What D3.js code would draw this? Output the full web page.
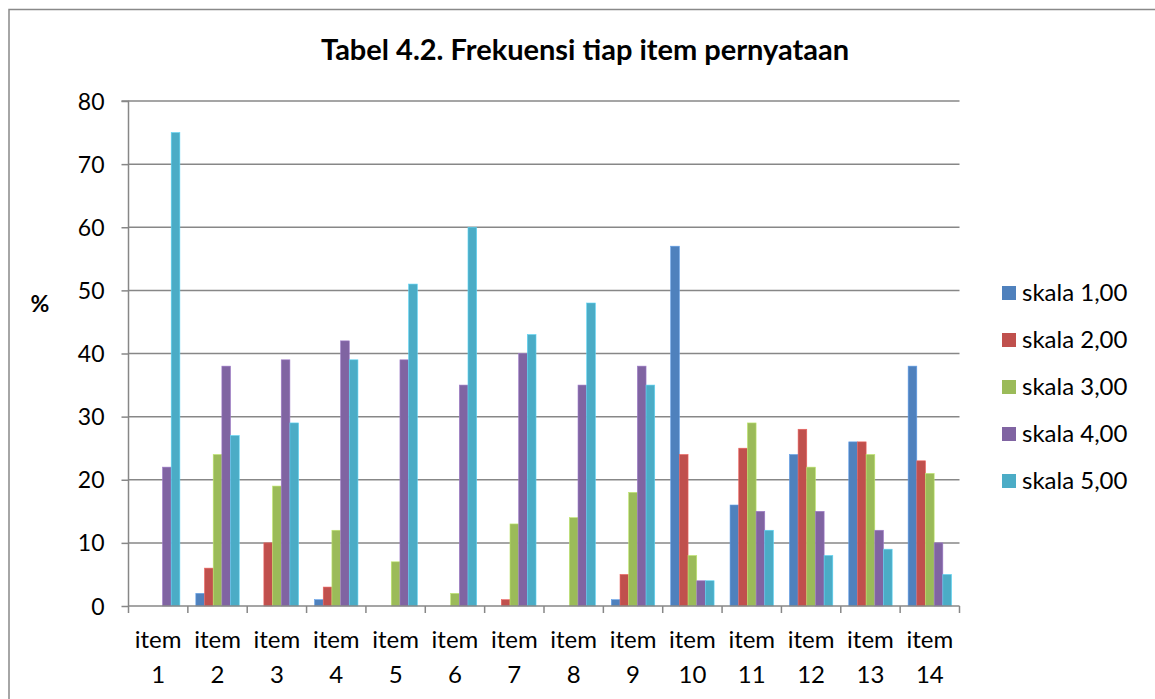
<!DOCTYPE html>
<html>
<head>
<meta charset="utf-8">
<script src="https://cdn.jsdelivr.net/npm/d3@7"></script>
<style>
  html, body { margin: 0; padding: 0; background: #fff; }
  svg { display: block; }
  text { font-family: Lato, "Noto Sans", sans-serif; fill: #000; }
</style>
</head>
<body>
<svg id="chart" width="1155" height="699"></svg>
<script>
const categories = ["item 1","item 2","item 3","item 4","item 5","item 6","item 7","item 8","item 9","item 10","item 11","item 12","item 13","item 14"];
const seriesNames = ["skala 1,00","skala 2,00","skala 3,00","skala 4,00","skala 5,00"];
const skala1 = [0, 2, 0, 1, 0, 0, 0, 0, 1, 57, 16, 24, 26, 38];
const skala2 = [0, 6, 10, 3, 0, 0, 1, 0, 5, 24, 25, 28, 26, 23];
const skala3 = [0, 24, 19, 12, 7, 2, 13, 14, 18, 8, 29, 22, 24, 21];
const skala4 = [22, 38, 39, 42, 39, 35, 40, 35, 38, 4, 15, 15, 12, 10];
const skala5 = [75, 27, 29, 39, 51, 60, 43, 48, 35, 4, 12, 8, 9, 5];
const yTicks = [0, 10, 20, 30, 40, 50, 60, 70, 80];
const colors = ["#4F81BD", "#C0504D", "#9BBB59", "#8064A2", "#4BACC6"];
const titleText = "Tabel 4.2. Frekuensi tiap item pernyataan";
const yLabel = "%";

const series = [skala1, skala2, skala3, skala4, skala5];
const svg = d3.select("#chart");

// outer border
svg.append("rect").attr("x", 9).attr("y", 9.5).attr("width", 1160).attr("height", 700)
  .attr("fill", "none").attr("stroke", "#898989").attr("stroke-width", 1.5);

const pLeft = 128.5, pRight = 959.5, pTop = 101, pBottom = 606;
const x0 = d3.scaleBand().domain(categories).range([pLeft, pRight]).paddingInner(0).paddingOuter(0);
const x1 = d3.scaleBand().domain(seriesNames).range([0, x0.bandwidth()]).paddingInner(0).paddingOuter(0.92);
const y = d3.scaleLinear().domain([0, 80]).range([pBottom, pTop]);

// gridlines
svg.append("g").selectAll("line").data(yTicks.filter(d => d > 0)).join("line")
  .attr("x1", pLeft).attr("x2", pRight)
  .attr("y1", d => y(d)).attr("y2", d => y(d))
  .attr("stroke", "#878787").attr("stroke-width", 1.5);

// bars
const g = svg.append("g");
categories.forEach((c, i) => {
  series.forEach((s, j) => {
    const v = s[i];
    if (v <= 0) return;
    g.append("rect")
      .attr("x", x0(c) + x1(seriesNames[j]))
      .attr("y", y(v))
      .attr("width", x1.bandwidth())
      .attr("height", y(0) - y(v))
      .attr("fill", colors[j])
      .attr("stroke", d3.color(colors[j]).brighter(0.6))
      .attr("stroke-width", 0.6);
  });
});

// y axis
const yAxis = d3.axisLeft(y).tickValues(yTicks).tickSize(7).tickPadding(10);
const yg = svg.append("g").attr("transform", `translate(${pLeft},0)`).call(yAxis);
yg.select(".domain").attr("stroke", "#878787").attr("stroke-width", 1.5).attr("d", `M-7,${pTop}H0V${pBottom}`);
yg.selectAll(".tick line").attr("stroke", "#878787").attr("stroke-width", 1.5);
yg.selectAll(".tick text").style("font-size", "23px").attr("x", -24).attr("dy", "0.35em")
  .style("font-family", "Lato, 'Noto Sans', sans-serif").attr("fill", "#000");

// x axis
const xAxis = d3.axisBottom(x0).tickSize(0).tickFormat("");
const xg = svg.append("g").attr("transform", `translate(0,${pBottom})`).call(xAxis);
xg.select(".domain").attr("stroke", "#878787").attr("stroke-width", 1.5).attr("d", `M${pLeft},0H${pRight}`);
xg.selectAll(".tick").remove();
const sepTicks = categories.map(c => x0(c)).concat([pRight]);
xg.selectAll("line.sep").data(sepTicks).join("line").attr("class", "sep")
  .attr("x1", d => d).attr("x2", d => d).attr("y1", 0).attr("y2", 7)
  .attr("stroke", "#878787").attr("stroke-width", 1.5);
const lab = xg.selectAll("text.cat").data(categories).join("text").attr("class", "cat")
  .attr("text-anchor", "middle").style("font-size", "24px")
  .attr("transform", d => `translate(${x0(d) + x0.bandwidth() / 2},0)`);
lab.append("tspan").attr("x", 0).attr("y", 42).text(d => d.split(" ")[0]);
lab.append("tspan").attr("x", 0).attr("y", 77).text(d => d.split(" ")[1]);

// title
svg.append("text").attr("x", 585).attr("y", 60).attr("text-anchor", "middle")
  .style("font-size", "29px").style("font-weight", "bold").text(titleText);

// y label
svg.append("text").attr("x", 40).attr("y", 312).attr("text-anchor", "middle")
  .style("font-size", "23px").style("font-weight", "bold").text(yLabel);

// legend
const leg = svg.append("g");
seriesNames.forEach((n, j) => {
  const cy = 293 + j * 47;
  leg.append("rect").attr("x", 1002).attr("y", cy - 7).attr("width", 14).attr("height", 14).attr("fill", colors[j]);
  leg.append("text").attr("x", 1022).attr("y", cy).attr("dy", "0.35em").style("font-size", "24px").text(n);
});
</script>
</body>
</html>
